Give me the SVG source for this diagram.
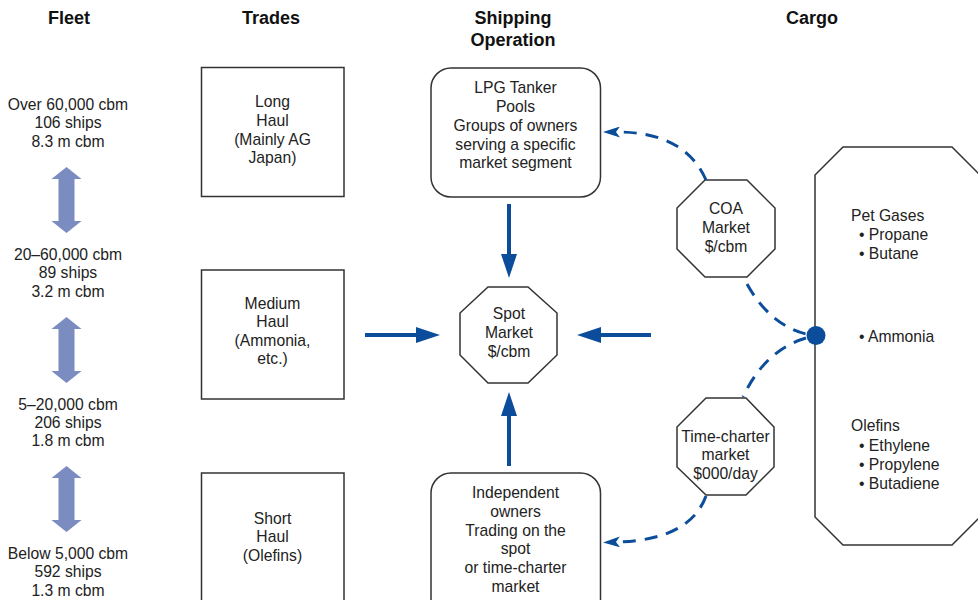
<svg xmlns="http://www.w3.org/2000/svg" width="978" height="600" viewBox="0 0 978 600">
<style>
text{font-family:"Liberation Sans",Arial,sans-serif;font-size:15.7px;fill:#222;text-anchor:middle}
.h{font-weight:bold;font-size:18px;fill:#111}
.l{text-anchor:start}
.box{fill:#fff;stroke:#333;stroke-width:1.5}
.sol{stroke:#0b4d9a;stroke-width:4;fill:none}
.dash{stroke:#0b4d9a;stroke-width:3;fill:none;stroke-dasharray:13 9}
.dbl{fill:#7b8cc1}
</style>
<defs>
<marker id="ah" markerUnits="userSpaceOnUse" markerWidth="24" markerHeight="16" refX="0" refY="8" orient="auto">
<path d="M0,0 L24,8 L0,16 z" fill="#0b4d9a"/>
</marker>
<marker id="dh" markerUnits="userSpaceOnUse" markerWidth="17" markerHeight="11" refX="3" refY="5.5" orient="auto">
<path d="M0,0 L17,5.5 L0,11 L4,5.5 z" fill="#0b4d9a"/>
</marker>
<polygon id="dbl" class="dbl" points="0,0 15,12 8,12 8,54 15,54 0,66 -15,54 -8,54 -8,12 -15,12"/>
</defs>

<g id="headers">
<text class="h" x="69" y="24">Fleet</text>
<text class="h" x="271" y="24">Trades</text>
<text class="h" x="513" y="24">Shipping</text>
<text class="h" x="513" y="46">Operation</text>
<text class="h" x="812" y="24">Cargo</text>
</g>

<g id="fleet">
<g id="fleet1"><text x="68" y="109.5">Over 60,000 cbm</text><text x="68" y="128">106 ships</text><text x="68" y="146.5">8.3 m cbm</text></g>
<g id="fleet2"><text x="68" y="259.5">20–60,000 cbm</text><text x="68" y="278">89 ships</text><text x="68" y="296.5">3.2 m cbm</text></g>
<g id="fleet3"><text x="68" y="409.5">5–20,000 cbm</text><text x="68" y="428">206 ships</text><text x="68" y="446">1.8 m cbm</text></g>
<g id="fleet4"><text x="68" y="558.5">Below 5,000 cbm</text><text x="68" y="577">592 ships</text><text x="68" y="595.5">1.3 m cbm</text></g>
<use href="#dbl" x="66.5" y="167"/>
<use href="#dbl" x="66.5" y="317"/>
<use href="#dbl" x="66.5" y="466"/>
</g>

<g id="trade-long">
<rect class="box" x="201.5" y="67.5" width="142.5" height="129"/>
<text x="272.5" y="106.5">Long</text><text x="272.5" y="125.5">Haul</text><text x="272.5" y="144.5">(Mainly AG</text><text x="272.5" y="162.5">Japan)</text>
</g>
<g id="trade-medium">
<rect class="box" x="201.5" y="270" width="142.5" height="129"/>
<text x="272.5" y="308.5">Medium</text><text x="272.5" y="326.5">Haul</text><text x="272.5" y="345.5">(Ammonia,</text><text x="272.5" y="363.5">etc.)</text>
</g>
<g id="trade-short">
<rect class="box" x="201.5" y="473" width="142.5" height="140"/>
<text x="272.5" y="523.5">Short</text><text x="272.5" y="541.5">Haul</text><text x="272.5" y="560.5">(Olefins)</text>
</g>

<g id="lpg-pools">
<rect class="box" x="431" y="68" width="169.5" height="129" rx="20"/>
<text x="515.5" y="92.5">LPG Tanker</text><text x="515.5" y="111.5">Pools</text><text x="515.5" y="130.5">Groups of owners</text><text x="515.5" y="149.5">serving a specific</text><text x="515.5" y="167.5">market segment</text>
</g>
<g id="independent">
<rect class="box" x="431" y="473" width="169.5" height="150" rx="20"/>
<text x="515.5" y="497.5">Independent</text><text x="515.5" y="516.5">owners</text><text x="515.5" y="535.5">Trading on the</text><text x="515.5" y="553.5">spot</text><text x="515.5" y="572.5">or time-charter</text><text x="515.5" y="591.5">market</text>
</g>

<g id="spot-market">
<polygon class="box" points="488,287 528,287 557,313 557,355 528,383 488,383 460,355 460,313"/>
<text x="509" y="318.5">Spot</text><text x="509" y="337.5">Market</text><text x="509" y="356.5">$/cbm</text>
</g>
<g id="coa-market">
<polygon class="box" points="705,180 747,180 775,208 775,249 747,277 705,277 677,249 677,208"/>
<text x="726" y="213.5">COA</text><text x="726" y="232.5">Market</text><text x="726" y="251.5">$/cbm</text>
</g>
<g id="tc-market">
<polygon class="box" points="706,398 746,398 774,427 774,467 746,495 706,495 677,467 677,427"/>
<text x="725.5" y="441.5">Time-charter</text><text x="725.5" y="459.5">market</text><text x="725.5" y="478.5">$000/day</text>
</g>

<g id="cargo">
<polygon class="box" points="843,147 952,147 980,175 980,517 952,545 843,545 815,517 815,175"/>
<text class="l" x="851" y="220.5">Pet Gases</text>
<text class="l" x="859" y="239.5">• Propane</text>
<text class="l" x="859" y="258.5">• Butane</text>
<text class="l" x="859" y="341.5">• Ammonia</text>
<text class="l" x="851" y="430.5">Olefins</text>
<text class="l" x="859" y="450.5">• Ethylene</text>
<text class="l" x="859" y="469.5">• Propylene</text>
<text class="l" x="859" y="488.5">• Butadiene</text>
</g>

<g id="connectors">
<line class="sol" x1="509" y1="204" x2="509" y2="254" marker-end="url(#ah)"/>
<line class="sol" x1="509" y1="466" x2="509" y2="416" marker-end="url(#ah)"/>
<line class="sol" x1="365" y1="335" x2="416" y2="335" marker-end="url(#ah)"/>
<line class="sol" x1="651" y1="335" x2="601" y2="335" marker-end="url(#ah)"/>
<path class="dash" d="M706,180 Q685,132 617,132" marker-end="url(#dh)"/>
<path class="dash" d="M706,496 Q690,540 617,542" marker-end="url(#dh)"/>
<path class="dash" d="M747,284 Q770,325 806,334"/>
<path class="dash" d="M806,338 Q765,350 743,397"/>
<circle cx="816" cy="335.5" r="9.5" fill="#0b4d9a"/>
</g>
</svg>
